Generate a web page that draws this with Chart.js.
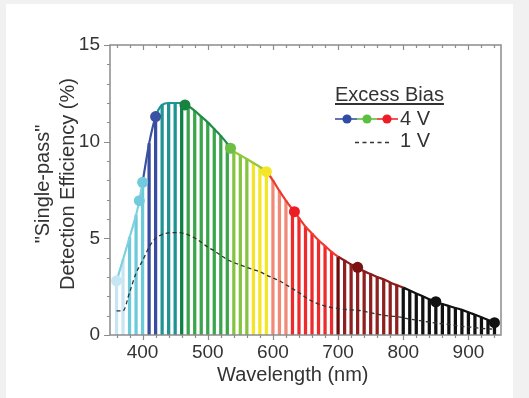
<!DOCTYPE html>
<html>
<head>
<meta charset="utf-8">
<script src="https://cdn.jsdelivr.net/npm/chart.js@4/dist/chart.umd.min.js"></script>
<style>
  html, body { margin:0; padding:0; background:#f1f1f1; }
  body { width:529px; height:398px; position:relative; overflow:hidden; font-family:"Liberation Sans", Arial, sans-serif; color:#333; }
  #panel { position:absolute; left:6px; top:4px; width:507px; height:394px; background:#fff; }
  #wrap { position:absolute; left:0; top:0; width:529px; height:398px; }
  .txt { position:absolute; white-space:nowrap; font-size:20px; line-height:20px; color:#333; }
  .ytitle { position:absolute; width:270px; height:24px; line-height:24px; font-size:20px; text-align:center; transform-origin:0 0; transform:rotate(-90deg); white-space:nowrap; color:#333; }
</style>
</head>
<body>
<div id="panel"></div>
<div id="wrap"><canvas id="c" width="529" height="398"></canvas></div>

<div class="ytitle" style="left:30px; top:319px;">"Single-pass"</div>
<div class="ytitle" style="left:55px; top:319px;">Detection Efficiency (%)</div>
<div class="txt" style="left:217px; top:364px;">Wavelength (nm)</div>

<div class="txt" style="left:335px; top:84px; text-decoration:underline; text-underline-offset:2px;">Excess Bias</div>
<svg style="position:absolute; left:330px; top:110px;" width="72" height="40">
  <line x1="5" y1="9" x2="27" y2="9" stroke="#3a50a3" stroke-width="1.6"/>
  <line x1="27" y1="9" x2="47" y2="9" stroke="#5cbf3f" stroke-width="1.6"/>
  <line x1="47" y1="9" x2="68" y2="9" stroke="#ee2a2a" stroke-width="1.6"/>
  <circle cx="17" cy="9" r="4.6" fill="#2f4ea3"/>
  <circle cx="37" cy="9" r="4.6" fill="#5cbf3f"/>
  <circle cx="57" cy="9" r="4.6" fill="#ee1c24"/>
  <line x1="25" y1="32.5" x2="62" y2="32.5" stroke="#333" stroke-width="1.3" stroke-dasharray="4,3.5"/>
</svg>
<div class="txt" style="left:400px; top:108px;">4 V</div>
<div class="txt" style="left:400px; top:130px;">1 V</div>

<script>
// ---- data ----
const wavelengths = [360,370,380,390,400,410,420,430,440,450,460,470,480,490,500,510,520,530,540,550,560,570,580,590,600,610,620,630,640,650,660,670,680,690,700,710,720,730,740,750,760,770,780,790,800,810,820,830,840,850,860,870,880,890,900,910,920,930,940];
const eff4V = [2.8,3.9,5.05,6.2,7.9,9.9,11.3,11.9,12.0,12.0,12.0,11.85,11.6,11.3,11.0,10.65,10.3,9.9,9.5,9.3,9.1,8.9,8.7,8.45,8.0,7.45,6.95,6.5,6.05,5.6,5.25,4.9,4.6,4.3,4.05,3.85,3.65,3.5,3.3,3.15,3.0,2.88,2.72,2.58,2.45,2.3,2.15,2.0,1.85,1.72,1.6,1.5,1.4,1.3,1.18,1.05,0.92,0.78,0.64];
const eff1V = [1.25,1.25,2.2,3.2,3.85,4.55,5.0,5.2,5.28,5.3,5.28,5.18,5.02,4.8,4.55,4.35,4.12,3.9,3.75,3.62,3.5,3.38,3.27,3.1,2.95,2.8,2.6,2.4,2.2,1.95,1.75,1.6,1.5,1.42,1.38,1.33,1.3,1.28,1.22,1.15,1.08,1.02,0.98,0.95,0.9,0.82,0.78,0.72,0.67,0.62,0.58,0.55,0.5,0.45,0.42,0.38,0.34,0.32,0.3];
const markerWavelengths = [360,395,400,420,465,535,590,633,730,850,940];
const markerEff = [2.8,6.95,7.9,11.3,11.9,9.66,8.45,6.38,3.5,1.72,0.64];
const xTickLabels = [400,500,600,700,800,900];
const yTickLabels = [0,5,10,15];

// ---- styles ----
function barColor(w){
  if (w<=370) return '#c6e6f4';
  if (w<=400) return '#6dcadb';
  if (w<=420) return '#384da0';
  if (w<=450) return '#1e9493';
  if (w<=460) return '#0e7f45';
  if (w<=530) return '#3aa54a';
  if (w<=560) return '#86c440';
  if (w<=590) return '#f3e626';
  if (w<=620) return '#f08a76';
  if (w<=690) return '#ee2a2a';
  if (w<=700) return '#6e0c0c';
  if (w<=790) return '#8e2020';
  return '#111111';
}
function lineColor(w){
  if (w<400) return '#7fd0e0';
  if (w<420) return '#3a50a3';
  if (w<465) return '#1e9493';
  if (w<535) return '#1d8c48';
  if (w<590) return '#93c73c';
  if (w<700) return '#ee3b30';
  if (w<800) return '#8b1c1c';
  return '#111111';
}
function markerColor(w){
  if (w<=370) return '#c6e6f4';
  if (w<=400) return '#72cbdc';
  if (w<=420) return '#3a50a3';
  if (w<=470) return '#16843f';
  if (w<=560) return '#6cbe45';
  if (w<=600) return '#f3e626';
  if (w<=690) return '#ee1c24';
  if (w<=790) return '#7a1212';
  return '#111111';
}

// table built from the arrays
const barPoints = wavelengths.map((w,i)=>({x:w, y:eff4V[i]}));
const curveMap = new Map();
wavelengths.forEach((w,i)=>curveMap.set(w, eff4V[i]));
markerWavelengths.forEach((w,i)=>curveMap.set(w, markerEff[i]));
const curvePoints = [...curveMap.entries()].sort((a,b)=>a[0]-b[0]).map(([x,y])=>({x,y}));
const markerPoints = markerWavelengths.map((w,i)=>({x:w, y:markerEff[i]}));
const onePoints = wavelengths.map((w,i)=>({x:w, y:eff1V[i]}));

const axisColor = '#8c8c8c';
const framePlugin = {
  id:'frame',
  afterDraw(chart){
    const ctx = chart.ctx, a = chart.chartArea, xs = chart.scales.x, ys = chart.scales.y;
    ctx.save();
    ctx.strokeStyle = axisColor; ctx.lineWidth = 1.5;
    ctx.strokeRect(a.left, a.top, a.right-a.left, a.bottom-a.top);
    ctx.lineWidth = 1.2;
    ctx.beginPath();
    for (let w=360; w<=940; w+=20){
      const px = Math.round(xs.getPixelForValue(w))+0.5;
      const L = (w%100===0)?5:3;
      ctx.moveTo(px, a.bottom); ctx.lineTo(px, a.bottom+L);
      ctx.moveTo(px, a.top); ctx.lineTo(px, a.top+L);
    }
    for (let v=0; v<=15; v+=1){
      const py = Math.round(ys.getPixelForValue(v))+0.5;
      const L = (v%5===0)?6:3;
      ctx.moveTo(a.left, py); ctx.lineTo(a.left-L, py);
    }
    ctx.stroke();
    ctx.restore();
  }
};

Chart.defaults.font.family = '"Liberation Sans", Arial, sans-serif';
new Chart(document.getElementById('c'), {
  type:'line',
  data:{
    datasets:[
      { type:'bar', data:barPoints, backgroundColor:wavelengths.map(barColor), barThickness:2.6, order:4, borderWidth:0 },
      { type:'line', data:onePoints, borderColor:'#333', borderWidth:1.3, borderDash:[4,3], pointRadius:0, cubicInterpolationMode:'monotone', order:3, fill:false },
      { type:'line', data:curvePoints, borderWidth:2.2, pointRadius:0, cubicInterpolationMode:'monotone', order:2, fill:false,
        borderColor:'#333', segment:{ borderColor: c => lineColor(c.p0.parsed.x) } },
      { type:'scatter', data:markerPoints, pointRadius:5.5, pointHoverRadius:5.5, pointBorderWidth:0,
        pointBackgroundColor:markerWavelengths.map(markerColor), showLine:false, order:1 }
    ]
  },
  options:{
    responsive:false, animation:false, devicePixelRatio:1,
    layout:{ padding:{ top:45, right:28, bottom:0, left:0 } },
    plugins:{ legend:{display:false}, tooltip:{enabled:false} },
    scales:{
      x:{ type:'linear', min:350, max:950, offset:false,
          grid:{display:false, drawTicks:false, tickLength:0}, border:{display:false},
          afterFit(s){ s.height = 63; },
          afterBuildTicks(s){ s.ticks = xTickLabels.map(v=>({value:v})); },
          ticks:{ color:'#333', font:{size:19}, padding:6, maxRotation:0, autoSkip:false } },
      y:{ type:'linear', min:0, max:15,
          grid:{display:false, drawTicks:false, tickLength:0}, border:{display:false},
          afterFit(s){ s.width = 110; },
          afterBuildTicks(s){ s.ticks = yTickLabels.map(v=>({value:v})); },
          ticks:{ color:'#333', font:{size:19}, padding:10 } }
    }
  },
  plugins:[framePlugin]
});
</script>
</body>
</html>
